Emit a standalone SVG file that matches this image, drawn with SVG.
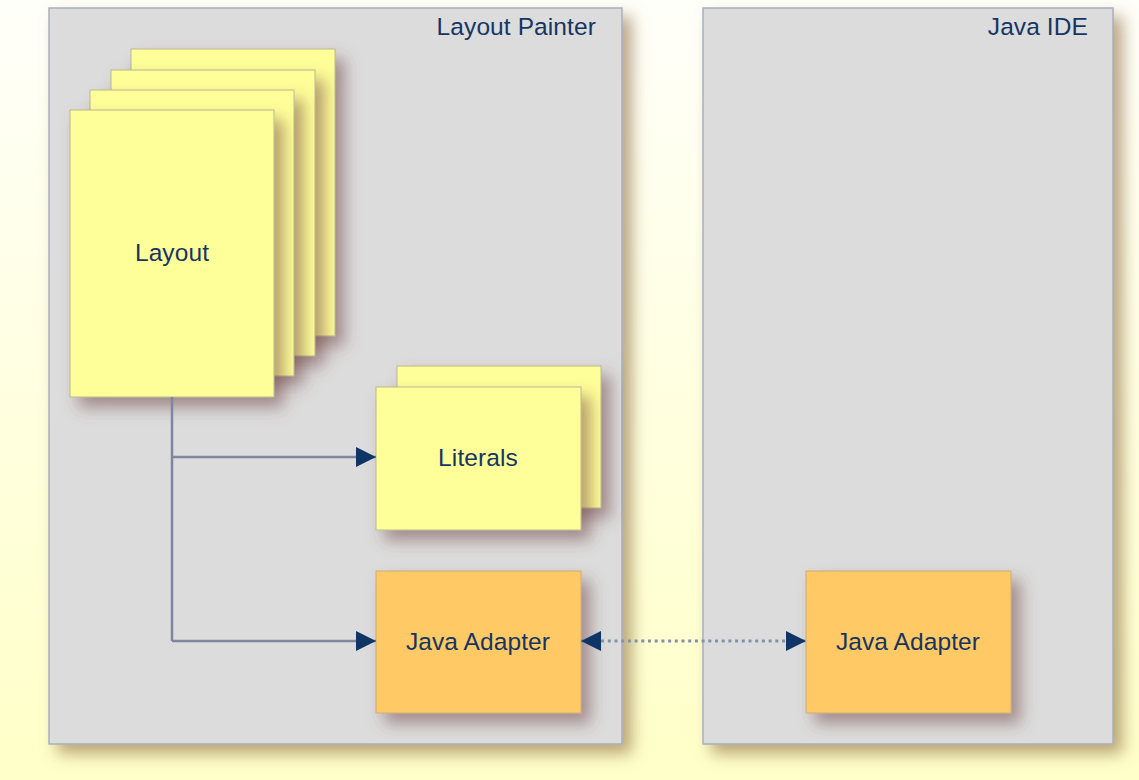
<svg xmlns="http://www.w3.org/2000/svg" width="1139" height="780" viewBox="0 0 1139 780">
<defs>
<linearGradient id="bg" x1="0" y1="0" x2="0" y2="1">
<stop offset="0" stop-color="#FFFFFA"/>
<stop offset="1" stop-color="#FFFFC8"/>
</linearGradient>
<filter id="panelShadow" x="-10%" y="-10%" width="130%" height="130%">
<feDropShadow dx="9" dy="9" stdDeviation="8" flood-color="#8A6A3A" flood-opacity="0.6"/>
</filter>
<filter id="nodeShadow" x="-25%" y="-25%" width="160%" height="160%">
<feDropShadow dx="9" dy="10" stdDeviation="8" flood-color="#6A3A3A" flood-opacity="0.5"/>
</filter>
<marker id="arrow" viewBox="0 0 20 20" refX="20" refY="10" markerWidth="20" markerHeight="20" markerUnits="userSpaceOnUse" orient="auto-start-reverse">
<path d="M0,0 L20,10 L0,20 Z" fill="#0F3466"/>
</marker>
<style>
.panel{fill:#DCDCDC;stroke:#A9AFBD;stroke-width:1.5}
.page{fill:#FFFF99;stroke:#B8B890;stroke-width:1}
.adapter{fill:#FFC965;stroke:#C8AE78;stroke-width:1}
.label{font-family:"Liberation Sans",Arial,sans-serif;font-size:24.5px;letter-spacing:0.1px;fill:#173563}
.conn{fill:none;stroke:#7D879E;stroke-width:2.5}
.dotted{fill:none;stroke:#8390A8;stroke-width:3;stroke-dasharray:3 3.7}
</style>
</defs>
<rect x="0" y="0" width="1139" height="780" fill="url(#bg)"/>

<g id="panel-layout-painter">
<rect class="panel" x="49" y="8" width="573" height="736" filter="url(#panelShadow)"/>
<text class="label" x="596" y="35" text-anchor="end">Layout Painter</text>
</g>
<g id="panel-java-ide">
<rect class="panel" x="703" y="8" width="410" height="736" filter="url(#panelShadow)"/>
<text class="label" x="1088" y="35" text-anchor="end">Java IDE</text>
</g>

<g id="node-layout">
<rect class="page" x="131" y="49" width="204" height="287" filter="url(#nodeShadow)"/>
<rect class="page" x="111" y="70" width="204" height="286" filter="url(#nodeShadow)"/>
<rect class="page" x="90" y="90" width="204" height="286" filter="url(#nodeShadow)"/>
<rect class="page" x="70" y="110" width="204" height="287" filter="url(#nodeShadow)"/>
<text class="label" x="172" y="261" text-anchor="middle">Layout</text>
</g>

<g id="node-literals">
<rect class="page" x="397" y="366" width="204" height="142" filter="url(#nodeShadow)"/>
<rect class="page" x="376" y="387" width="205" height="143" filter="url(#nodeShadow)"/>
<text class="label" x="478" y="466" text-anchor="middle">Literals</text>
</g>

<g id="node-java-adapter-left">
<rect class="adapter" x="376" y="571" width="205" height="142" filter="url(#nodeShadow)"/>
<text class="label" x="478" y="650" text-anchor="middle">Java Adapter</text>
</g>

<g id="node-java-adapter-right">
<rect class="adapter" x="806" y="571" width="205" height="142" filter="url(#nodeShadow)"/>
<text class="label" x="908" y="650" text-anchor="middle">Java Adapter</text>
</g>

<g id="connectors">
<path class="conn" d="M172,397 L172,641"/>
<path class="conn" d="M172,457 L376,457" marker-end="url(#arrow)"/>
<path class="conn" d="M172,641 L376,641" marker-end="url(#arrow)"/>
<path class="dotted" d="M581,641 L806,641" marker-start="url(#arrow)" marker-end="url(#arrow)"/>
</g>
</svg>
